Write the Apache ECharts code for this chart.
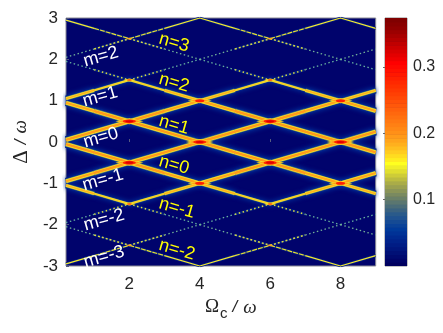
<!DOCTYPE html>
<html><head><meta charset="utf-8">
<style>html,body{margin:0;padding:0;background:#fff}#c{width:443px;height:333px}</style>
<script src="https://cdn.jsdelivr.net/npm/echarts@6/dist/echarts.min.js"></script>
</head><body><div id="c"></div>
<script>
const xStops = [0.2,1,2,3,4,5,6,7,8,9];
// Delta read at each xStop; null = line outside the frame
const mPlus2  = [2.05,2.25,2.5,2.75,3,null,null,null,null,null];
const mPlus1  = [1.05,1.25,1.5,1.75,2,2.25,2.5,2.75,3,null];
const mZero   = [0.05,0.25,0.5,0.75,1,1.25,1.5,1.75,2,2.25];
const mMinus1 = [-0.95,-0.75,-0.5,-0.25,0,0.25,0.5,0.75,1,1.25];
const mMinus2 = [-1.95,-1.75,-1.5,-1.25,-1,-0.75,-0.5,-0.25,0,0.25];
const mMinus3 = [-2.95,-2.75,-2.5,-2.25,-2,-1.75,-1.5,-1.25,-1,-0.75];
const mMinus4 = [null,null,null,null,-3,-2.75,-2.5,-2.25,-2,-1.75];
const mMinus5 = [null,null,null,null,null,null,null,null,-3,-2.75];
const nPlus5  = [null,null,null,null,null,null,null,null,3,2.75];
const nPlus4  = [null,null,null,null,3,2.75,2.5,2.25,2,1.75];
const nPlus3  = [2.95,2.75,2.5,2.25,2,1.75,1.5,1.25,1,0.75];
const nPlus2  = [1.95,1.75,1.5,1.25,1,0.75,0.5,0.25,0,-0.25];
const nPlus1  = [0.95,0.75,0.5,0.25,0,-0.25,-0.5,-0.75,-1,-1.25];
const nZero   = [-0.05,-0.25,-0.5,-0.75,-1,-1.25,-1.5,-1.75,-2,-2.25];
const nMinus1 = [-1.05,-1.25,-1.5,-1.75,-2,-2.25,-2.5,-2.75,-3,null];
const nMinus2 = [-2.05,-2.25,-2.5,-2.75,-3,null,null,null,null,null];
const allLines = [mPlus2,mPlus1,mZero,mMinus1,mMinus2,mMinus3,mMinus4,mMinus5,nPlus5,nPlus4,nPlus3,nPlus2,nPlus1,nZero,nMinus1,nMinus2];

const strongCross = [[2,0.5],[2,-0.5],[4,0],[6,0.5],[6,-0.5],[8,0]];
const mediumCross = [[4,1],[4,-1],[8,1],[8,-1]];
const weakCross   = [[2,1.5],[2,-1.5],[6,1.5],[6,-1.5]];
const faintCross  = [[2,2.5],[2,-2.5],[6,2.5],[6,-2.5]];

const mLabels = [[1.19,2.06,'m=2'],[1.17,1.09,'m=1'],[1.19,0.1,'m=0'],[1.25,-0.92,'m=-1'],[1.28,-1.89,'m=-2'],[1.28,-2.78,'m=-3']];
const nLabels = [[3.27,2.4,'n=3'],[3.27,1.43,'n=2'],[3.27,0.41,'n=1'],[3.27,-0.56,'n=0'],[3.35,-1.6,'n=-1'],[3.35,-2.61,'n=-2']];

const xTicks = [2,4,6,8];
const cbMax = 0.374;
const cbColors = ['#00005f','#000468','#000a6f','#001076','#00167d','#001c84','#00228a','#002a90','#003296','#003a9a',
'#0a4298','#154a94','#205290','#2a5a8a','#3a6280','#4a6c78','#5a7670','#6a8068','#7a8a60','#8a9458',
'#9aa050','#aaac48','#bcbc40','#cecc38','#e0de30','#f0ee28','#ffff20','#ffec20','#ffdc20','#ffcc20',
'#ffbe20','#ffb01e','#ffa41c','#ff9a1a','#ff9018','#ff8816','#ff8014','#ff7812','#ff7010','#ff680e',
'#ff600c','#ff580a','#ff5008','#ff4806','#ff4004','#ff3802','#ff3000','#ff2800','#ff2000','#ff1800',
'#ff1000','#ff0800','#ff0000','#f00000','#e40000','#d80000','#cc0000','#c00000','#b40000','#a80000',
'#9c0000','#900000','#880000','#800000'];

// Look of a line per quarter-unit band of |Delta| : [width, colour, dash]
const glow   = [[7.5,'#00248c'],[7.5,'#00248c'],[7.5,'#00248c'],[7,'#00248c'],[6,'#00248c'],[4.2,'#00248c'],[2.6,'#001a80'],null,null,[2.2,'#001a80'],[2.6,'#001c84'],[2.8,'#001c84']];
const outer  = [[5,'#5a7670'],[5,'#5a7670'],[5,'#5a7670'],[4.6,'#5a7670'],[3.8,'#5a7670'],[2.6,'#5a7670'],null,null,null,null,null,null];
const bright = [[3.9,'#f8e828'],[3.9,'#f8e828'],[3.9,'#f8e828'],[3.6,'#f8e828'],[2.9,'#f8e828'],[1.9,'#f4e428'],[1.5,'#d8d844',[1.5,2.5]],[1.3,'#66b0a0',[1.5,2.5]],[1.3,'#70b098',[1.5,2.5]],[1.5,'#d8d844',[2,2]],[1.2,'#e8e030',[5,1]],[1.3,'#f4e830']];
const core   = [[2.4,'#ff9a1a'],[2.4,'#ff9a1a'],[2.4,'#ff9a1a'],[2.2,'#ffa41c'],[1.5,'#ffb01e'],[0.7,'#ffc020'],null,null,null,null,null,null];
const layers = [glow,outer,bright,core];

const lensShape = 'path://M0 50A100 50 0 1 1 200 50A100 50 0 1 1 0 50Z';
const series = [];
layers.forEach(function(layer,li){
  layer.forEach(function(st,band){
    if(!st) return;
    const pts=[];
    allLines.forEach(function(line){
      for(let i=0;i<xStops.length-1;i++){
        const a=line[i],b=line[i+1];
        if(a===null||b===null) continue;
        const bd=Math.min(11,Math.floor(Math.abs((a+b)/2)/0.25));
        if(bd===band){pts.push([xStops[i],a],[xStops[i+1],b],'-');}
      }
    });
    const style={width:st[0],color:st[1],type:st[2]||'solid',cap:'butt'};
    if(li===0&&band<6){style.shadowColor='#0034a0';style.shadowBlur=5;}
    series.push({type:'line',xAxisIndex:0,yAxisIndex:0,data:pts,symbol:'none',silent:true,connectNulls:false,animation:false,z:2,lineStyle:style});
  });
});
function blobs(data,shape,size,color,z){
  series.push({type:'scatter',xAxisIndex:0,yAxisIndex:0,data:data,symbol:shape,symbolSize:size,silent:true,animation:false,z:z,
    itemStyle:{color:color,opacity:1}});
}
blobs(strongCross,'diamond',[28,6],'#f8e828',3);
blobs(strongCross,'diamond',[24,4.8],'#ff9a1a',3);
blobs(strongCross,lensShape,[13,3.6],'#ff2800',4);
blobs(strongCross,lensShape,[8,2.2],'#e00000',5);
blobs(mediumCross,'diamond',[24,5],'#f8e828',3);
blobs(mediumCross,'diamond',[20,3.8],'#ff9a1a',3);
blobs(mediumCross,lensShape,[9,3],'#ff2000',4);
blobs(weakCross,'diamond',[12,3.2],'#f8e828',3);
blobs(weakCross,lensShape,[5,2],'#ff6a10',4);
blobs(faintCross,lensShape,[6,1.6],'#ffa41c',4);

function textLabels(data,color,rot){
  series.push({type:'scatter',xAxisIndex:0,yAxisIndex:0,data:data,symbolSize:1,silent:true,animation:false,z:8,
    itemStyle:{color:'transparent',opacity:1},
    label:{show:true,opacity:1,position:'inside',rotate:rot,color:color,fontFamily:'Liberation Sans',fontSize:18,formatter:function(p){return p.data[2];}}});
}
textLabels(mLabels,'#ffffff',16);
textLabels(nLabels,'#ffff00',-16);

series.push({type:'custom',xAxisIndex:1,yAxisIndex:1,silent:true,animation:false,z:2,clip:true,
  data:cbColors.map(function(c,i){return [i*cbMax/cbColors.length,(i+1)*cbMax/cbColors.length,c];}),
  renderItem:function(params,api){
    const lo=api.coord([0,api.value(0)]),hi=api.coord([1,api.value(1)]);
    return {type:'rect',shape:{x:lo[0],y:hi[1],width:hi[0]-lo[0],height:lo[1]-hi[1]+0.6},style:{fill:cbColors[params.dataIndex]}};
  }});

const tickFont={fontFamily:'Liberation Sans',fontSize:17,color:'#262626'};
const option={
  animation:false,backgroundColor:'#ffffff',
  grid:[
    {left:66,top:18,width:309.7,height:248,show:true,backgroundColor:'#00036c',borderColor:'#8a8a94',borderWidth:1,z:0},
    {left:385,top:18,width:22,height:248,show:true,backgroundColor:'#00005f',borderColor:'#8a8a8a',borderWidth:1}
  ],
  xAxis:[
    {type:'value',gridIndex:0,min:0.2,max:9,position:'bottom',
     axisLabel:Object.assign({margin:10,customValues:xTicks},tickFont),
     axisTick:{show:true,inside:true,length:3,lineStyle:{color:'#555a80'},customValues:xTicks},
     axisLine:{show:false},splitLine:{show:false},
     name:'{o|Ω}{s|c}{w|/}{v|ω}',nameLocation:'middle',nameGap:28,
     nameTextStyle:{padding:[0,0,0,20],rich:{
       o:{fontFamily:'Liberation Serif',fontSize:19,color:'#262626'},
       s:{fontFamily:'Liberation Sans',fontSize:15,color:'#262626',verticalAlign:'top',padding:[12,0,0,1]},
       w:{fontFamily:'Liberation Sans',fontSize:17,color:'#262626',fontStyle:'italic',padding:[0,6,0,5]},
       v:{fontFamily:'Liberation Serif',fontSize:19,fontStyle:'italic',color:'#262626'}
     }}},
    {type:'value',gridIndex:1,min:0,max:1,show:false}
  ],
  yAxis:[
    {type:'value',gridIndex:0,min:-3,max:3,interval:1,
     axisLabel:Object.assign({margin:8},tickFont),
     axisTick:{show:true,inside:true,length:3,lineStyle:{color:'#555a80'}},
     axisLine:{show:false},splitLine:{show:false},
     name:'{o|Δ}{w|/}{v|ω}',nameLocation:'middle',nameGap:29,
     nameTextStyle:{rich:{
       o:{fontFamily:'Liberation Serif',fontSize:21,color:'#262626'},
       w:{fontFamily:'Liberation Sans',fontSize:17,color:'#262626',fontStyle:'italic',padding:[0,6,0,6]},
       v:{fontFamily:'Liberation Serif',fontSize:19,fontStyle:'italic',color:'#262626'}
     }}},
    {type:'value',gridIndex:1,min:0,max:cbMax,interval:0.1,position:'right',
     axisLabel:{margin:6,fontFamily:'Liberation Sans',fontSize:16,color:'#262626',showMaxLabel:false,showMinLabel:false,formatter:function(v){return (v<0.05||v>0.35)?'':v.toFixed(1);}},
     axisTick:{show:true,inside:true,length:2,lineStyle:{color:'#666'}},
     axisLine:{show:false},splitLine:{show:false}}
  ],
  series:series
};
const chart=echarts.init(document.getElementById('c'),null,{renderer:'canvas'});
chart.setOption(option);
</script></body></html>
